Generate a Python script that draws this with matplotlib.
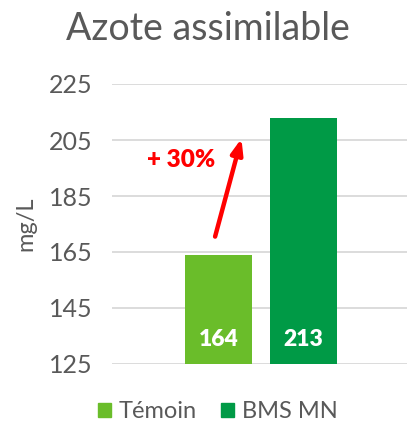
import matplotlib.pyplot as plt
from matplotlib.patches import Patch

plt.rcParams['font.family'] = ['Lato', 'DejaVu Sans']

# data
series = ["Témoin", "BMS MN"]
values = [164, 213]
colors = ["#6ABD2A", "#009A46"]
yticks = [125, 145, 165, 185, 205, 225]
gain = "+ 30%"

grey = "#595959"

fig = plt.figure(figsize=(4.07, 4.24), dpi=100)
ax = fig.add_axes([112/407, 1-364/424, 295/407, 280/424])

xs = list(range(len(values)))
ax.bar(xs, values, width=67/85, color=colors, zorder=3)
for x, v in zip(xs, values):
    ax.text(x, 133.6, str(v), ha="center", va="center", color="white",
            fontsize=16.5, fontweight="heavy", zorder=4)

ax.set_xlim(-1.253, 2.218)
ax.set_ylim(yticks[0], yticks[-1])
ax.set_yticks(yticks)
ax.set_xticks([])
ax.grid(axis="y", color="#D9D9D9", linewidth=1.3, zorder=0)
for s in ax.spines.values():
    s.set_visible(False)
ax.tick_params(axis="y", length=0, pad=14, labelsize=18, labelcolor=grey)
ax.set_ylabel("mg/L", fontsize=17, color=grey, labelpad=9)

# arrow + gain annotation
ax.annotate("", xy=(0.27, 205.5), xytext=(-0.04, 170.5),
            arrowprops=dict(arrowstyle="-|>,head_length=0.9,head_width=0.35",
                        color="#FF0000", lw=3.2, shrinkA=0, shrinkB=0), zorder=5)
ax.text(-0.44, 197.8, gain, ha="center", va="center", color="#FF0000",
        fontsize=17.5, fontweight="heavy")

fig.suptitle("Azote assimilable", x=0.51, y=0.975, va="top", fontsize=27, color=grey)

handles = [Patch(color=c, label=s) for c, s in zip(colors, series)]
fig.legend(handles=handles, loc="center", bbox_to_anchor=(0.535, 1-412/424),
           ncol=2, frameon=False, fontsize=17, handlelength=0.55, handleheight=0.55,
           handletextpad=0.35, columnspacing=1.0, labelcolor=grey)

fig.savefig("out.png", dpi=100)
